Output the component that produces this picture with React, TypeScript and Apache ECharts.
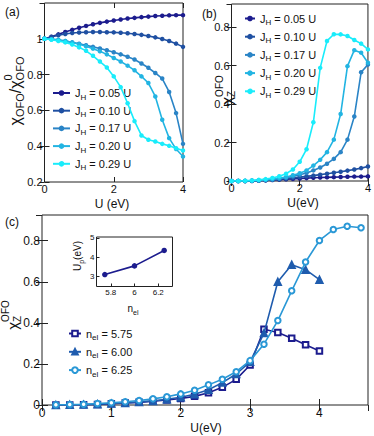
import React, { useEffect, useRef } from 'react';
import * as echarts from 'echarts';

// ---------- data ----------
const U = [0, 0.2, 0.4, 0.6, 0.8, 1, 1.2, 1.4, 1.6, 1.8, 2, 2.2, 2.4, 2.6, 2.8, 3, 3.2, 3.4, 3.6, 3.8, 4];
const JH_LABELS = ['0.05', '0.10', '0.17', '0.20', '0.29'];

// panel (a): chi_OFO / chi0_OFO
const A_005 = [1, 1.012, 1.025, 1.038, 1.05, 1.062, 1.072, 1.081, 1.089, 1.096, 1.102, 1.108, 1.113, 1.117, 1.121, 1.124, 1.127, 1.129, 1.131, 1.132, 1.132];
const A_010 = [1, 1.01, 1.02, 1.027, 1.032, 1.035, 1.037, 1.038, 1.038, 1.037, 1.036, 1.034, 1.031, 1.027, 1.022, 1.016, 1.008, 0.999, 0.988, 0.973, 0.955];
const A_017 = [1, 0.997, 0.993, 0.987, 0.98, 0.972, 0.964, 0.955, 0.946, 0.936, 0.925, 0.913, 0.9, 0.884, 0.862, 0.838, 0.809, 0.778, 0.703, 0.585, 0.413];
const A_020 = [1, 0.998, 0.994, 0.988, 0.98, 0.97, 0.958, 0.945, 0.93, 0.913, 0.893, 0.873, 0.85, 0.824, 0.79, 0.753, 0.678, 0.548, 0.445, 0.384, 0.342];
const A_029 = [1, 0.995, 0.988, 0.98, 0.968, 0.952, 0.933, 0.905, 0.873, 0.84, 0.79, 0.73, 0.64, 0.54, 0.46, 0.436, 0.426, 0.413, 0.402, 0.389, 0.376];

// panel (b): chi_Z^OFO
const B_005 = [0, 0, 0, 0, 0.001, 0.003, 0.005, 0.007, 0.009, 0.011, 0.013, 0.015, 0.017, 0.018, 0.019, 0.02, 0.021, 0.022, 0.023, 0.023, 0.024];
const B_010 = [0, 0, 0, 0.001, 0.002, 0.004, 0.006, 0.009, 0.012, 0.016, 0.02, 0.024, 0.028, 0.033, 0.038, 0.043, 0.048, 0.054, 0.06, 0.067, 0.075];
const B_017 = [0, 0, 0, 0.001, 0.003, 0.005, 0.008, 0.012, 0.017, 0.024, 0.032, 0.042, 0.055, 0.07, 0.09, 0.115, 0.15, 0.215, 0.335, 0.565, 0.605];
const B_020 = [0, 0, 0, 0.001, 0.003, 0.006, 0.01, 0.015, 0.021, 0.03, 0.04, 0.055, 0.08, 0.11, 0.15, 0.215, 0.348, 0.597, 0.68, 0.667, 0.615];
const B_029 = [0, 0, 0.001, 0.003, 0.006, 0.01, 0.016, 0.025, 0.038, 0.06, 0.1, 0.165, 0.305, 0.588, 0.728, 0.763, 0.762, 0.754, 0.733, 0.714, 0.684];

// panel (c): chi_Z^OFO vs U for several fillings
const UC = [0.2, 0.4, 0.6, 0.8, 1, 1.2, 1.4, 1.6, 1.8, 2, 2.2, 2.4, 2.6, 2.8, 3, 3.2, 3.4, 3.6, 3.8, 4, 4.2, 4.4, 4.6];
const NEL_LABELS = ['5.75', '6.00', '6.25'];
const C_575 = [0, 0, 0.001, 0.003, 0.006, 0.01, 0.013, 0.018, 0.024, 0.032, 0.042, 0.06, 0.086, 0.125, 0.195, 0.369, 0.353, 0.325, 0.293, 0.263];
const C_600 = [0, 0.001, 0.002, 0.004, 0.007, 0.01, 0.015, 0.02, 0.028, 0.038, 0.052, 0.074, 0.109, 0.151, 0.21, 0.35, 0.6, 0.683, 0.659, 0.61];
const C_625 = [0.001, 0.002, 0.004, 0.007, 0.011, 0.016, 0.022, 0.03, 0.04, 0.054, 0.072, 0.098, 0.125, 0.162, 0.216, 0.296, 0.411, 0.556, 0.696, 0.801, 0.854, 0.87, 0.863];

// inset: U_p vs n_el
const INSET_NEL = [5.75, 6, 6.25];
const INSET_UP = [3.1, 3.55, 4.35];
const INSET_X_TICKS = [5.8, 6, 6.2];
const INSET_Y_TICKS = [3, 4, 5];

// ---------- style ----------
const FF = '"Liberation Sans", Arial, Helvetica, sans-serif';
const INK = '#111';
const J_COLORS = ['#1c1c8e', '#1f50a2', '#2a84c6', '#22b4e2', '#19ecfb'];
const N_COLORS = ['#1c1c8e', '#1f5cae', '#2a98d6'];
const N_SYMBOLS = ['emptyRect', 'triangle', 'emptyCircle'];

const pairs = (xs: number[], ys: number[]) => ys.map((y, i) => [xs[i], y]);

function axis(o: any) {
  return {
    type: 'value',
    gridIndex: o.grid,
    position: o.pos,
    min: o.min,
    max: o.max,
    interval: o.interval,
    axisLine: { show: false },
    splitLine: { show: false },
    axisTick: {
      show: o.tick > 0,
      inside: true,
      length: o.tick,
      lineStyle: { color: '#222', width: 1 },
      ...(o.custom ? { customValues: o.custom } : {}),
    },
    axisLabel: {
      show: !!o.labels,
      fontSize: o.fs || 11,
      color: INK,
      fontFamily: FF,
      margin: o.margin ?? 3,
      showMaxLabel: o.showMax ?? true,
      showMinLabel: true,
      ...(o.custom ? { customValues: o.custom } : {}),
    },
  };
}

function legendItem(name: string, main: string, sub: string, rest: string, left: number, cy: number, w: number) {
  return {
    show: true,
    data: [name],
    left,
    top: cy - 8,
    padding: 0,
    itemWidth: w,
    itemHeight: 7,
    selectedMode: false,
    formatter: () => `{m|${main}}{s|${sub}}{m|${rest}}`,
    textStyle: {
      fontSize: 11,
      color: INK,
      fontFamily: FF,
      rich: {
        m: { fontSize: 11, lineHeight: 16, fontFamily: FF, color: INK },
        s: { fontSize: 8, lineHeight: 6, verticalAlign: 'bottom', fontFamily: FF, color: INK },
      },
    },
  };
}

function measure(ctx: CanvasRenderingContext2D | null, t: string, s: number) {
  if (!ctx) return t.length * s * 0.6;
  ctx.font = `${s}px "Liberation Sans"`;
  return ctx.measureText(t).width;
}

type Part = { t: string; s: number; dy: number };
function composedText(ctx: any, cx: number, cy: number, groups: Part[][], rotation: number) {
  const widths = groups.map((g) => Math.max(...g.map((p) => measure(ctx, p.t, p.s))));
  const total = widths.reduce((a, b) => a + b, 0);
  let x = -total / 2;
  const children: any[] = [];
  groups.forEach((g, i) => {
    g.forEach((p) =>
      children.push({
        type: 'text',
        x,
        y: p.dy,
        style: {
          text: p.t,
          fontSize: p.s,
          fontFamily: FF,
          fill: INK,
          textAlign: 'left',
          textVerticalAlign: 'middle',
          align: 'left',
          verticalAlign: 'middle',
        },
      })
    );
    x += widths[i];
  });
  return { type: 'group', x: cx, y: cy, rotation, children };
}

function plainText(text: string, x: number, y: number, size: number, align = 'center') {
  return {
    type: 'text',
    x,
    y,
    style: {
      text,
      fontSize: size,
      fontFamily: FF,
      fill: INK,
      textAlign: align,
      textVerticalAlign: 'middle',
      align,
      verticalAlign: 'middle',
    },
  };
}

export default function App() {
  const ref = useRef<HTMLDivElement>(null);

  useEffect(() => {
    if (!ref.current) return;
    const chart = echarts.init(ref.current, null, { renderer: 'svg' });
    const canvas = document.createElement('canvas');
    const ctx = canvas.getContext('2d');

    const aSeries = [A_005, A_010, A_017, A_020, A_029];
    const bSeries = [B_005, B_010, B_017, B_020, B_029];
    const cSeries = [C_575, C_600, C_625];
    const jName = (k: number) => `J_H = ${JH_LABELS[k]} U`;
    const nName = (k: number) => `n_el = ${NEL_LABELS[k]}`;

    const series: any[] = [];
    aSeries.forEach((ys, k) =>
      series.push({
        type: 'line', name: jName(k), xAxisIndex: 0, yAxisIndex: 0,
        data: pairs(U, ys), symbol: 'circle', symbolSize: 4.5, silent: true,
        itemStyle: { color: J_COLORS[k] }, lineStyle: { color: J_COLORS[k], width: 1.6 }, z: 3 + k,
      })
    );
    bSeries.forEach((ys, k) =>
      series.push({
        type: 'line', name: jName(k), xAxisIndex: 2, yAxisIndex: 2,
        data: pairs(U, ys), symbol: 'circle', symbolSize: 4.5, silent: true,
        itemStyle: { color: J_COLORS[k] }, lineStyle: { color: J_COLORS[k], width: 1.6 }, z: 3 + k,
      })
    );
    cSeries.forEach((ys, k) =>
      series.push({
        type: 'line', name: nName(k), xAxisIndex: 4, yAxisIndex: 4,
        data: pairs(UC, ys), symbol: N_SYMBOLS[k], symbolSize: k === 1 ? 7 : 5.5, silent: true,
        itemStyle: { color: N_COLORS[k], borderColor: N_COLORS[k], borderWidth: 1.5 },
        lineStyle: { color: N_COLORS[k], width: 1.6 }, z: 3 + k,
      })
    );
    series.push({
      type: 'line', name: 'inset', xAxisIndex: 6, yAxisIndex: 6,
      data: pairs(INSET_NEL, INSET_UP), symbol: 'circle', symbolSize: 5.5, silent: true,
      itemStyle: { color: '#1c1c8e' }, lineStyle: { color: '#1c1c8e', width: 1.6 }, z: 10,
    });

    const legends: any[] = [];
    const aCenters = [95.5, 113.2, 130.9, 148.6, 166.3];
    const bCenters = [21, 39.2, 57.4, 75.6, 93.8];
    const cCenters = [336, 354.3, 372.6];
    JH_LABELS.forEach((lab, k) => {
      legends.push(legendItem(jName(k), 'J', 'H', ` = ${lab} U`, 52, aCenters[k], 17));
      legends.push(legendItem(jName(k), 'J', 'H', ` = ${lab} U`, 244, bCenters[k], 10));
    });
    NEL_LABELS.forEach((lab, k) => {
      legends.push(legendItem(nName(k), 'n', 'el', ` = ${lab}`, 68, cCenters[k], 12));
    });

    const graphics: any[] = [
      plainText('(a)', 5, 12, 12, 'left'),
      plainText('(b)', 202, 14, 12, 'left'),
      plainText('(c)', 5, 222, 12, 'left'),
      plainText('U (eV)', 112, 203.5, 12),
      plainText('U(eV)', 303, 202.5, 12),
      plainText('U(eV)', 206, 428, 12),
      composedText(ctx, 15, 91, [
        [{ t: 'χ', s: 16, dy: 0 }],
        [{ t: 'OFO', s: 11, dy: 5 }],
        [{ t: '/', s: 16, dy: 0 }],
        [{ t: 'χ', s: 16, dy: 0 }],
        [{ t: '0', s: 11, dy: -7 }, { t: 'OFO', s: 11, dy: 5 }],
      ], Math.PI / 2),
      composedText(ctx, 226, 90, [
        [{ t: 'χ', s: 15, dy: 0 }],
        [{ t: 'OFO', s: 10, dy: -7 }, { t: 'Z', s: 10, dy: 5 }],
      ], Math.PI / 2),
      composedText(ctx, 12, 315, [
        [{ t: 'χ', s: 15, dy: 0 }],
        [{ t: 'OFO', s: 10, dy: -7 }, { t: 'Z', s: 10, dy: 5 }],
      ], Math.PI / 2),
      composedText(ctx, 133, 308, [
        [{ t: 'n', s: 10, dy: 0 }],
        [{ t: 'el', s: 7, dy: 4 }],
      ], 0),
      composedText(ctx, 77, 256, [
        [{ t: 'U', s: 10, dy: 0 }],
        [{ t: 'p', s: 7, dy: 4 }],
        [{ t: '(eV)', s: 10, dy: 0 }],
      ], Math.PI / 2),
    ];

    const option: any = {
      animation: false,
      backgroundColor: '#fff',
      grid: [
        { left: 44.5, top: 3, width: 138.5, height: 179, show: true, borderColor: '#222', borderWidth: 1, containLabel: false },
        { left: 231.5, top: 4, width: 137.5, height: 177, show: true, borderColor: '#222', borderWidth: 1, containLabel: false },
        { left: 42, top: 215, width: 326, height: 190, show: true, borderColor: '#222', borderWidth: 1, containLabel: false },
        { left: 96.5, top: 237, width: 76, height: 49.5, show: true, borderColor: '#222', borderWidth: 1, backgroundColor: '#fff', containLabel: false, z: 5 },
      ],
      xAxis: [
        axis({ grid: 0, pos: 'bottom', min: 0, max: 4, interval: 2, tick: 5, labels: true, fs: 11, margin: 1 }),
        axis({ grid: 0, pos: 'top', min: 0, max: 4, interval: 2, tick: 5 }),
        axis({ grid: 1, pos: 'bottom', min: 0, max: 4, interval: 2, tick: 5, labels: true, fs: 11, margin: 1 }),
        axis({ grid: 1, pos: 'top', min: 0, max: 4, interval: 2, tick: 5 }),
        axis({ grid: 2, pos: 'bottom', min: 0, max: 4.7, interval: 1, tick: 6, labels: true, fs: 12, margin: 2, showMax: false }),
        axis({ grid: 2, pos: 'top', min: 0, max: 4.7, interval: 1, tick: 6 }),
        { ...axis({ grid: 3, pos: 'bottom', min: 5.68, max: 6.32, tick: 3, labels: true, fs: 8, margin: 2, custom: INSET_X_TICKS }), z: 6 },
      ],
      yAxis: [
        axis({ grid: 0, pos: 'left', min: 0.2, max: 1.2, interval: 0.2, tick: 5, labels: true, fs: 11, margin: 2, showMax: false }),
        axis({ grid: 0, pos: 'right', min: 0.2, max: 1.2, interval: 0.2, tick: 5 }),
        axis({ grid: 1, pos: 'left', min: 0, max: 0.92, interval: 0.2, tick: 5, labels: true, fs: 11, margin: 2, showMax: false }),
        axis({ grid: 1, pos: 'right', min: 0, max: 0.92, interval: 0.2, tick: 5 }),
        axis({ grid: 2, pos: 'left', min: 0, max: 0.925, interval: 0.2, tick: 6, labels: true, fs: 12, margin: 2, showMax: false }),
        axis({ grid: 2, pos: 'right', min: 0, max: 0.925, interval: 0.2, tick: 6 }),
        { ...axis({ grid: 3, pos: 'left', min: 2.48, max: 5.05, tick: 3, labels: true, fs: 8, margin: 2, custom: INSET_Y_TICKS }), z: 6 },
      ],
      legend: legends,
      series,
      graphic: { elements: graphics },
    };
    chart.setOption(option);
    return () => chart.dispose();
  }, []);

  return (
    <div
      ref={ref}
      style={{ position: 'fixed', left: 0, top: 0, width: 374, height: 436, background: '#fff' }}
    />
  );
}
